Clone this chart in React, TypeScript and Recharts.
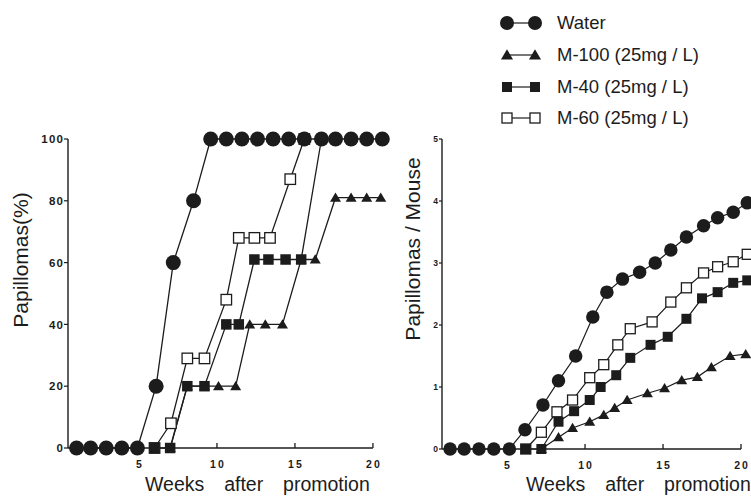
import { LineChart, Line, XAxis, YAxis, ReferenceLine, Legend } from "recharts";

const FONT = "'Liberation Sans', Arial, Helvetica, sans-serif";
const INK = "#1c1c1c";

const weekTicks = [5, 10, 15, 20];
const pctTicks = [0, 20, 40, 60, 80, 100];
const perMouseTicks = [0, 1, 2, 3, 4, 5];

const legendLabels = ["Water", "M-100 (25mg / L)", "M-40 (25mg / L)", "M-60 (25mg / L)"];
const legendShapes = ["circle", "triangle", "square", "openSquare"];

// left panel: incidence of papillomas (%)
const leftWaterWeeks = [1.0, 1.9, 2.9, 3.9, 4.9, 6.1, 7.2, 8.5, 9.6, 10.6, 11.6, 12.6, 13.6, 14.6, 15.6, 16.7, 17.6, 18.6, 19.6, 20.6];
const leftWaterPct = [0, 0, 0, 0, 0, 20, 60, 80, 100, 100, 100, 100, 100, 100, 100, 100, 100, 100, 100, 100];
const leftM100Weeks = [7.0, 8.1, 9.2, 10.1, 11.2, 12.1, 13.1, 14.2, 15.4, 16.3, 17.6, 18.6, 19.6, 20.5];
const leftM100Pct = [0, 20, 20, 20, 20, 40, 40, 40, 61, 61, 81, 81, 81, 81];
const leftM40Weeks = [6.0, 7.0, 8.1, 9.2, 10.6, 11.4, 12.4, 13.3, 14.4, 15.4, 16.7];
const leftM40Pct = [0, 0, 20, 20, 40, 40, 61, 61, 61, 61, 100];
const leftM60Weeks = [6.0, 7.05, 8.1, 9.2, 10.6, 11.4, 12.4, 13.4, 14.7, 15.6];
const leftM60Pct = [0, 8, 29, 29, 48, 68, 68, 68, 87, 100];

// right panel: papillomas per mouse
const rightWaterWeeks = [1.35, 2.25, 3.2, 4.15, 5.15, 6.15, 7.3, 8.3, 9.4, 10.5, 11.4, 12.4, 13.5, 14.5, 15.5, 16.5, 17.6, 18.5, 19.5, 20.4];
const rightWaterVals = [0, 0, 0, 0, 0, 0.31, 0.71, 1.1, 1.5, 2.13, 2.53, 2.74, 2.85, 3.0, 3.21, 3.42, 3.6, 3.73, 3.82, 3.97];
const rightM100Weeks = [7.2, 8.3, 9.2, 10.3, 11.2, 11.9, 12.7, 14.0, 15.1, 16.2, 17.2, 18.1, 19.3, 20.3];
const rightM100Vals = [0, 0.19, 0.34, 0.44, 0.55, 0.66, 0.79, 0.9, 0.98, 1.11, 1.16, 1.32, 1.5, 1.53];
const rightM40Weeks = [6.2, 7.2, 8.3, 9.3, 10.3, 11.0, 12.0, 12.9, 14.2, 15.3, 16.5, 17.5, 18.5, 19.5, 20.4];
const rightM40Vals = [0, 0, 0.44, 0.61, 0.79, 1.0, 1.19, 1.47, 1.68, 1.81, 2.1, 2.43, 2.53, 2.68, 2.72];
const rightM60Weeks = [6.2, 7.2, 8.2, 9.2, 10.3, 11.2, 12.1, 12.9, 14.3, 15.5, 16.5, 17.6, 18.5, 19.5, 20.4];
const rightM60Vals = [0, 0.27, 0.6, 0.79, 1.15, 1.36, 1.68, 1.94, 2.05, 2.37, 2.6, 2.84, 2.94, 3.02, 3.14];

const rows = (weeks: number[], vals: number[]) => weeks.map((w, i) => ({ week: w, value: vals[i] }));

function Marker({ cx, cy, shape, size }: { cx: number; cy: number; shape: string; size: number }) {
  const h = size / 2;
  if (shape === "circle") return <circle cx={cx} cy={cy} r={h} fill={INK} />;
  if (shape === "triangle")
    return (
      <polygon
        points={`${cx},${cy - h * 1.05} ${cx - h * 1.1},${cy + h * 0.8} ${cx + h * 1.1},${cy + h * 0.8}`}
        fill={INK}
      />
    );
  if (shape === "square") return <rect x={cx - h} y={cy - h} width={size} height={size} fill={INK} />;
  return <rect x={cx - h} y={cy - h} width={size} height={size} fill="#fff" stroke={INK} strokeWidth={1.3} />;
}

const dotOf = (shape: string, size: number) => (p: any) =>
  p.cx == null || p.cy == null ? (
    <g key={`e-${p.index}`} />
  ) : (
    <g key={`d-${shape}-${p.index}`}>
      <Marker cx={p.cx} cy={p.cy} shape={shape} size={size} />
    </g>
  );

const XTick = (p: any) => (
  <g>
    <line x1={p.x} x2={p.x} y1={p.y} y2={p.y - 5} stroke={INK} strokeWidth={1.3} />
    <text x={p.x + 1} y={p.y + 20} textAnchor="middle" fontFamily={FONT} fontSize={10.5} fontWeight={700} letterSpacing={2} fill={INK}>
      {p.payload.value}
    </text>
  </g>
);

const YTick = (p: any) => (
  <text x={p.x + p.ls} y={p.y} dy="0.36em" textAnchor="end" fontFamily={FONT} fontSize={p.fs} fontWeight={700} letterSpacing={p.ls} fill={INK}>
    {p.payload.value}
  </text>
);

const xLabel = (x: number) => () => (
  <text x={x} y={491} fontFamily={FONT} fontSize={19.5} fill={INK} style={{ wordSpacing: "14.5px" }}>
    Weeks after promotion
  </text>
);

const yLabel = (x: number, y: number, text: string) => () => (
  <text x={x} y={y} transform={`rotate(-90 ${x} ${y})`} textAnchor="middle" fontFamily={FONT} fontSize={21} fill={INK}>
    {text}
  </text>
);

const LegendBox = () => (
  <svg width={261} height={135}>
    {legendLabels.map((label, i) => {
      const y = [23, 55, 87, 118][i];
      const shape = legendShapes[i];
      const size = shape === "circle" ? 14 : shape === "triangle" ? 11 : 10;
      return (
        <g key={label}>
          <line x1={17} x2={45} y1={y} y2={y} stroke={INK} strokeWidth={1.2} />
          <Marker cx={17} cy={y} shape={shape} size={size} />
          <Marker cx={45} cy={y} shape={shape} size={size} />
          <text x={67} y={y} dy="0.35em" fontFamily={FONT} fontSize={18.5} fill={INK}>
            {label}
          </text>
        </g>
      );
    })}
  </svg>
);

export default function App() {
  return (
    <div style={{ position: "absolute", left: 0, top: 0, width: 751, height: 497, background: "#fff", overflow: "hidden" }}>
      <div style={{ position: "absolute", left: 0, top: 0 }}>
        <LineChart width={395} height={497} margin={{ top: 139, right: 6, bottom: 15, left: 20 }}>
          <XAxis
            type="number"
            dataKey="week"
            domain={[0.45, 21.03]}
            ticks={weekTicks}
            axisLine={false}
            tickLine={false}
            tickSize={0}
            tickMargin={0}
            height={34}
            tick={<XTick />}
            label={xLabel(145)}
          />
          <YAxis
            type="number"
            domain={[0, 100]}
            ticks={pctTicks}
            width={48}
            axisLine={{ stroke: INK, strokeWidth: 1.4 }}
            tickLine={{ stroke: INK, strokeWidth: 1.2 }}
            tickSize={4}
            tickMargin={1}
            tick={<YTick fs={11.5} ls={1.3} />}
            label={yLabel(28, 260, "Papillomas(%)")}
          />
          <ReferenceLine segment={[{ x: 0.45, y: 0 }, { x: 20, y: 0 }]} stroke={INK} strokeWidth={1.4} />
          <Line data={rows(leftM60Weeks, leftM60Pct)} dataKey="value" name="M-60" stroke={INK} strokeWidth={1.3} dot={dotOf("openSquare", 10.5)} activeDot={false} isAnimationActive={false} />
          <Line data={rows(leftM100Weeks, leftM100Pct)} dataKey="value" name="M-100" stroke={INK} strokeWidth={1.3} dot={dotOf("triangle", 10)} activeDot={false} isAnimationActive={false} />
          <Line data={rows(leftM40Weeks, leftM40Pct)} dataKey="value" name="M-40" stroke={INK} strokeWidth={1.3} dot={dotOf("square", 10.5)} activeDot={false} isAnimationActive={false} />
          <Line data={rows(leftWaterWeeks, leftWaterPct)} dataKey="value" name="Water" stroke={INK} strokeWidth={1.3} dot={dotOf("circle", 15)} activeDot={false} isAnimationActive={false} />
        </LineChart>
      </div>
      <div style={{ position: "absolute", left: 395, top: 0 }}>
        <LineChart width={356} height={497} margin={{ top: 139, right: 0, bottom: 14, left: 17 }}>
          <XAxis
            type="number"
            dataKey="week"
            domain={[0.83, 20.64]}
            ticks={weekTicks}
            axisLine={false}
            tickLine={false}
            tickSize={0}
            tickMargin={0}
            height={34}
            tick={<XTick />}
            label={xLabel(131)}
          />
          <YAxis
            type="number"
            domain={[0, 5]}
            ticks={perMouseTicks}
            width={30}
            axisLine={{ stroke: INK, strokeWidth: 1.4 }}
            tickLine={{ stroke: INK, strokeWidth: 1.2 }}
            tickSize={3}
            tickMargin={1}
            tick={<YTick fs={8.5} ls={0} />}
            label={yLabel(25, 249, "Papillomas / Mouse")}
          />
          <ReferenceLine segment={[{ x: 0.83, y: 0 }, { x: 20, y: 0 }]} stroke={INK} strokeWidth={1.4} />
          <Legend
            layout="vertical"
            align="center"
            verticalAlign="middle"
            content={<LegendBox />}
            wrapperStyle={{ top: 0, left: 95, width: 261, height: 135 }}
          />
          <Line data={rows(rightM60Weeks, rightM60Vals)} dataKey="value" name="M-60" stroke={INK} strokeWidth={1.2} dot={dotOf("openSquare", 10)} activeDot={false} isAnimationActive={false} />
          <Line data={rows(rightM100Weeks, rightM100Vals)} dataKey="value" name="M-100" stroke={INK} strokeWidth={1.2} dot={dotOf("triangle", 10)} activeDot={false} isAnimationActive={false} />
          <Line data={rows(rightM40Weeks, rightM40Vals)} dataKey="value" name="M-40" stroke={INK} strokeWidth={1.2} dot={dotOf("square", 10)} activeDot={false} isAnimationActive={false} />
          <Line data={rows(rightWaterWeeks, rightWaterVals)} dataKey="value" name="Water" stroke={INK} strokeWidth={1.2} dot={dotOf("circle", 13.5)} activeDot={false} isAnimationActive={false} />
        </LineChart>
      </div>
    </div>
  );
}
